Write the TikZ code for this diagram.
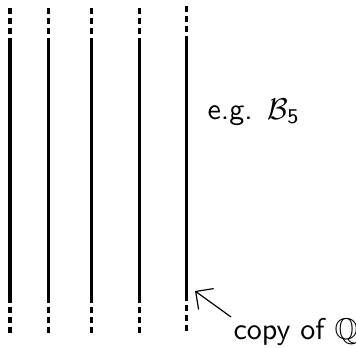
\documentclass[tikz,border=0pt]{standalone}
\usepackage{amssymb}
\usetikzlibrary{arrows.meta}
\begin{document}
\begin{tikzpicture}[x=0.3333pt,y=-0.3333pt,
  rail/.style={line width=1pt},
  railend/.style={line width=1pt,dash pattern=on 2pt off 1.333pt},
  pointer/.style={line width=0.4pt,-{Straight Barb[length=4.3pt,width=8.6pt]}},
  lbl/.style={inner sep=0pt,font=\sffamily}]
\useasboundingbox (0,0) rectangle (356,348);
\foreach \i/\x/\d in {1/10/0,2/48/0,3/91/0,4/139/0,5/186/-2}{
  \coordinate (t\i) at (\x,8+\d);
  \coordinate (a\i) at (\x,35+\d);
  \coordinate (b\i) at (\x,38+\d);
  \coordinate (c\i) at (\x,303+\d);
  \coordinate (d\i) at (\x,307+\d);
  \coordinate (e\i) at (\x,334+\d);
  \draw[railend] (t\i) -- (a\i);
  \draw[rail] (b\i) -- (c\i);
  \draw[railend] (d\i) -- (e\i);
}
\node[lbl,anchor=base west] (eg) at (207,119.5) {e.g.\ \,$\mathcal{B}_{\mathsf{5}}$};
\node[lbl,anchor=base west] (copy) at (233,340) {copy of $\mathbb{Q}$};
\coordinate (tail) at (231,317);
\coordinate (tip) at (195,291);
\draw[pointer] (tail) -- (tip);
\end{tikzpicture}
\end{document}
